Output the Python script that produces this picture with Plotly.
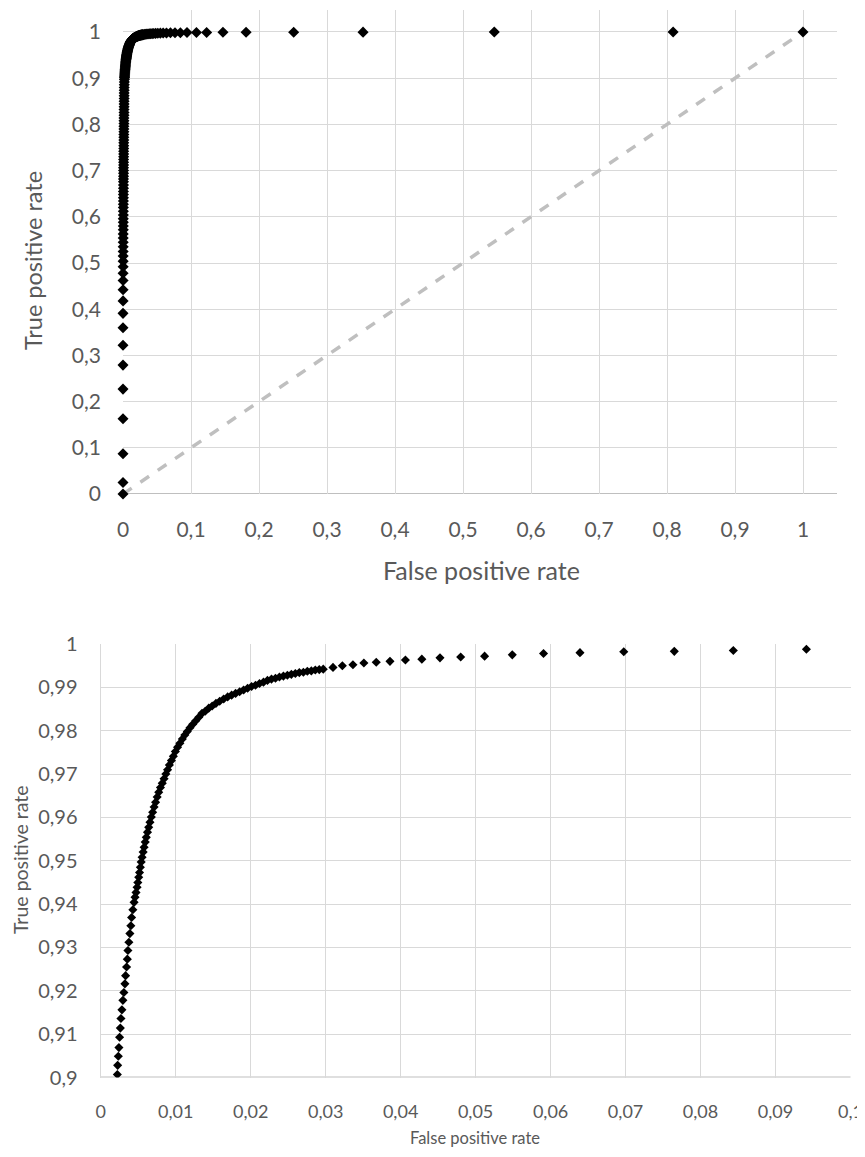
import plotly.graph_objects as go

# ---------------- data ----------------
# steep part of the ROC curve (TPR < 0.9, FPR close to 0)
low_fpr = [0, 0, 0, 0, 0, 0, 0, 0, 0, 0.0001,
           0.0001, 0.0001, 0.0001, 0.0002, 0.0002, 0.0002, 0.0002, 0.0003, 0.0003, 0.0003,
           0.0003, 0.0004, 0.0004, 0.0004, 0.0004, 0.0005, 0.0005, 0.0005, 0.0005, 0.0006,
           0.0006, 0.0006, 0.0006, 0.0007, 0.0007, 0.0007, 0.0007, 0.0008, 0.0008, 0.0008,
           0.0008, 0.0009, 0.0009, 0.0009, 0.0010, 0.0010, 0.0010, 0.0011, 0.0011, 0.0011,
           0.0012, 0.0012, 0.0012, 0.0013, 0.0013, 0.0013, 0.0014, 0.0014, 0.0014, 0.0015,
           0.0015, 0.0015, 0.0016, 0.0016, 0.0016, 0.0017, 0.0017, 0.0017, 0.0018, 0.0018,
           0.0019, 0.0020, 0.0021]
low_tpr = [0.000, 0.025, 0.087, 0.163, 0.227, 0.279, 0.322, 0.360, 0.391, 0.418,
           0.442, 0.462, 0.478, 0.492, 0.504, 0.515, 0.525, 0.535, 0.545, 0.554,
           0.563, 0.572, 0.580, 0.588, 0.596, 0.604, 0.612, 0.620, 0.627, 0.634,
           0.641, 0.648, 0.655, 0.662, 0.669, 0.676, 0.682, 0.688, 0.694, 0.700,
           0.706, 0.712, 0.718, 0.724, 0.730, 0.736, 0.742, 0.748, 0.754, 0.760,
           0.766, 0.772, 0.778, 0.784, 0.790, 0.796, 0.802, 0.808, 0.814, 0.820,
           0.826, 0.832, 0.838, 0.844, 0.850, 0.856, 0.862, 0.868, 0.874, 0.880,
           0.886, 0.892, 0.897]

# knee of the curve (visible in the zoomed chart)
knee_fpr = [0.00222, 0.00226, 0.00235, 0.00243, 0.00252, 0.00262, 0.00270, 0.00283, 0.00296, 0.00309,
            0.00323, 0.00332, 0.00345, 0.00355, 0.00363, 0.00376, 0.00389, 0.00402, 0.00412, 0.00429,
            0.00445, 0.00458, 0.00471, 0.00485, 0.00495, 0.00507, 0.00518, 0.00529, 0.00540, 0.00552,
            0.00566, 0.00579, 0.00594, 0.00608, 0.00624, 0.00640, 0.00657, 0.00675, 0.00693, 0.00712,
            0.00732, 0.00753, 0.00774, 0.00797, 0.00821, 0.00845, 0.00869, 0.00892, 0.00916, 0.00943,
            0.00969, 0.00996, 0.01025, 0.01056, 0.01089, 0.01122, 0.01155, 0.01191, 0.01228, 0.01268,
            0.01308, 0.01351, 0.01394, 0.01441, 0.01487, 0.01537, 0.01587, 0.01640, 0.01693, 0.01746,
            0.01799, 0.01853, 0.01906, 0.01959, 0.02012, 0.02065, 0.02118, 0.02171, 0.02224, 0.02278,
            0.02331, 0.02384, 0.02437, 0.02490, 0.02543, 0.02596, 0.02649, 0.02703, 0.02756, 0.02809,
            0.02862, 0.02915, 0.02968]
knee_tpr = [0.9007, 0.9028, 0.9049, 0.9069, 0.9093, 0.9114, 0.9136, 0.9156, 0.9178, 0.9196,
            0.9216, 0.9235, 0.9255, 0.9273, 0.9293, 0.9312, 0.9332, 0.9350, 0.9369, 0.9387,
            0.9404, 0.9416, 0.9427, 0.9439, 0.9450, 0.9462, 0.9473, 0.9485, 0.9497, 0.9508,
            0.9520, 0.9531, 0.9543, 0.9554, 0.9566, 0.9577, 0.9589, 0.9601, 0.9612, 0.9624,
            0.9635, 0.9647, 0.9658, 0.9669, 0.9679, 0.9689, 0.9700, 0.9710, 0.9721, 0.9731,
            0.9741, 0.9752, 0.9762, 0.9771, 0.9781, 0.9790, 0.9798, 0.9807, 0.9815, 0.9823,
            0.9831, 0.9840, 0.9845, 0.9852, 0.9857, 0.9863, 0.9868, 0.9873, 0.9878, 0.9882,
            0.9886, 0.9890, 0.9894, 0.9898, 0.9902, 0.9905, 0.9909, 0.9912, 0.9916, 0.9919,
            0.9921, 0.9924, 0.9926, 0.9928, 0.9930, 0.9932, 0.9934, 0.9935, 0.9937, 0.9938,
            0.9940, 0.9941, 0.9942]

# flat tail of the curve
tail_fpr = [0.03098, 0.03223, 0.03364, 0.03510, 0.03675, 0.03858, 0.04064, 0.04283, 0.04525,
            0.04801, 0.05120, 0.05489, 0.05906, 0.06392, 0.06976, 0.07650, 0.08437, 0.09412,
            0.108, 0.123, 0.147, 0.181, 0.251, 0.353, 0.546, 0.809, 1.0]
tail_tpr = [0.9946, 0.9950, 0.9952, 0.9956, 0.9958, 0.9960, 0.9963, 0.9965, 0.9968,
            0.9970, 0.9972, 0.9975, 0.9978, 0.9980, 0.9982, 0.9983, 0.9985, 0.9988,
            0.9990, 0.9991, 0.9993, 0.9994, 0.9996, 0.9997, 0.9998, 0.9999, 1.0]

# random-classifier diagonal
diag_x = [0, 1]
diag_y = [0, 1]

# tick labels
top_ticks = [0, 0.1, 0.2, 0.3, 0.4, 0.5, 0.6, 0.7, 0.8, 0.9, 1]
top_labels = ["0", "0,1", "0,2", "0,3", "0,4", "0,5", "0,6", "0,7", "0,8", "0,9", "1"]
zx_ticks = [0, 0.01, 0.02, 0.03, 0.04, 0.05, 0.06, 0.07, 0.08, 0.09, 0.1]
zx_labels = ["0", "0,01", "0,02", "0,03", "0,04", "0,05", "0,06", "0,07", "0,08", "0,09", "0,1"]
zy_ticks = [0.9, 0.91, 0.92, 0.93, 0.94, 0.95, 0.96, 0.97, 0.98, 0.99, 1]
zy_labels = ["0,9", "0,91", "0,92", "0,93", "0,94", "0,95", "0,96", "0,97", "0,98", "0,99", "1"]

fpr = low_fpr + knee_fpr + tail_fpr
tpr = low_tpr + knee_tpr + tail_tpr

# ---------------- figure ----------------
OFF = 8                      # page body margin of the html page
W, H = 865 - OFF, 1157 - OFF
FONT = "Lato"
TXT = "#595959"
GRID = "#D9D9D9"
AXIS = "#BFBFBF"

def px_x(p):
    return (p - OFF) / W

def px_y(p):
    return 1 - (p - OFF) / H

fig = go.Figure()

fig.add_trace(go.Scatter(x=diag_x, y=diag_y, mode="lines",
                         line=dict(color="#BFBFBF", width=3.5, dash="dash"),
                         xaxis="x", yaxis="y", showlegend=False, hoverinfo="skip"))
fig.add_trace(go.Scatter(x=fpr, y=tpr, mode="markers", cliponaxis=False,
                         marker=dict(symbol="diamond", size=8.5, color="black", line=dict(width=0)),
                         xaxis="x", yaxis="y", showlegend=False))
fig.add_trace(go.Scatter(x=fpr, y=tpr, mode="markers", cliponaxis=True,
                         marker=dict(symbol="diamond", size=7, color="black", line=dict(width=0)),
                         xaxis="x2", yaxis="y2", showlegend=False))

fig.update_layout(
    width=W, height=H,
    margin=dict(l=0, r=0, t=0, b=0),
    paper_bgcolor="white", plot_bgcolor="white",
    font=dict(family=FONT, color=TXT),
    xaxis=dict(domain=[px_x(123), px_x(837)], range=[0, 1.05], anchor="y",
               tickvals=top_ticks, ticktext=top_labels, tickfont=dict(size=21, color=TXT),
               showgrid=True, gridcolor=GRID, gridwidth=1.3, zeroline=False,
               showline=False, ticks="", ticklabelstandoff=21, automargin=False),
    yaxis=dict(domain=[px_y(494), px_y(10)], range=[0, 1.0476], anchor="x",
               tickvals=top_ticks, ticktext=top_labels, tickfont=dict(size=21, color=TXT),
               showgrid=True, gridcolor=GRID, gridwidth=1.3, zeroline=False,
               showline=False, ticks="", ticklabelstandoff=21, automargin=False),
    xaxis2=dict(domain=[px_x(100.7), px_x(850.5)], range=[0, 0.1], anchor="y2",
                tickvals=zx_ticks, ticktext=zx_labels, tickfont=dict(size=18, color=TXT),
                showgrid=True, gridcolor=GRID, gridwidth=1.3, zeroline=False,
                showline=False, ticks="", ticklabelstandoff=21, automargin=False),
    yaxis2=dict(domain=[px_y(1077.5), px_y(644)], range=[0.9, 1], anchor="x2",
                tickvals=zy_ticks, ticktext=zy_labels, tickfont=dict(size=20, color=TXT),
                showgrid=True, gridcolor=GRID, gridwidth=1.3, zeroline=False,
                showline=True, linecolor=GRID, linewidth=1.3,
                ticks="", ticklabelstandoff=18, automargin=False),
    shapes=[
        dict(type="line", xref="x domain", yref="y", x0=0, x1=1, y0=0, y1=0,
             line=dict(color=AXIS, width=2), layer="below"),
        dict(type="line", xref="x2 domain", yref="y2", x0=0, x1=1, y0=0.9, y1=0.9,
             line=dict(color=AXIS, width=2), layer="below"),
    ],
    annotations=[
        dict(text="False positive rate", xref="paper", yref="paper",
             x=px_x(481), y=px_y(570), showarrow=False, font=dict(size=25, color=TXT),
             xanchor="center", yanchor="middle"),
        dict(text="True positive rate", xref="paper", yref="paper",
             x=px_x(33), y=px_y(261), showarrow=False, font=dict(size=23.5, color=TXT),
             textangle=-90, xanchor="center", yanchor="middle"),
        dict(text="False positive rate", xref="paper", yref="paper",
             x=px_x(475), y=px_y(1138), showarrow=False,
             font=dict(size=16.5, color=TXT),
             xanchor="center", yanchor="middle"),
        dict(text="True positive rate", xref="paper", yref="paper",
             x=px_x(20), y=px_y(860), showarrow=False, font=dict(size=19.5, color=TXT),
             textangle=-90, xanchor="center", yanchor="middle"),
    ],
)

fig.write_html("out.html")
